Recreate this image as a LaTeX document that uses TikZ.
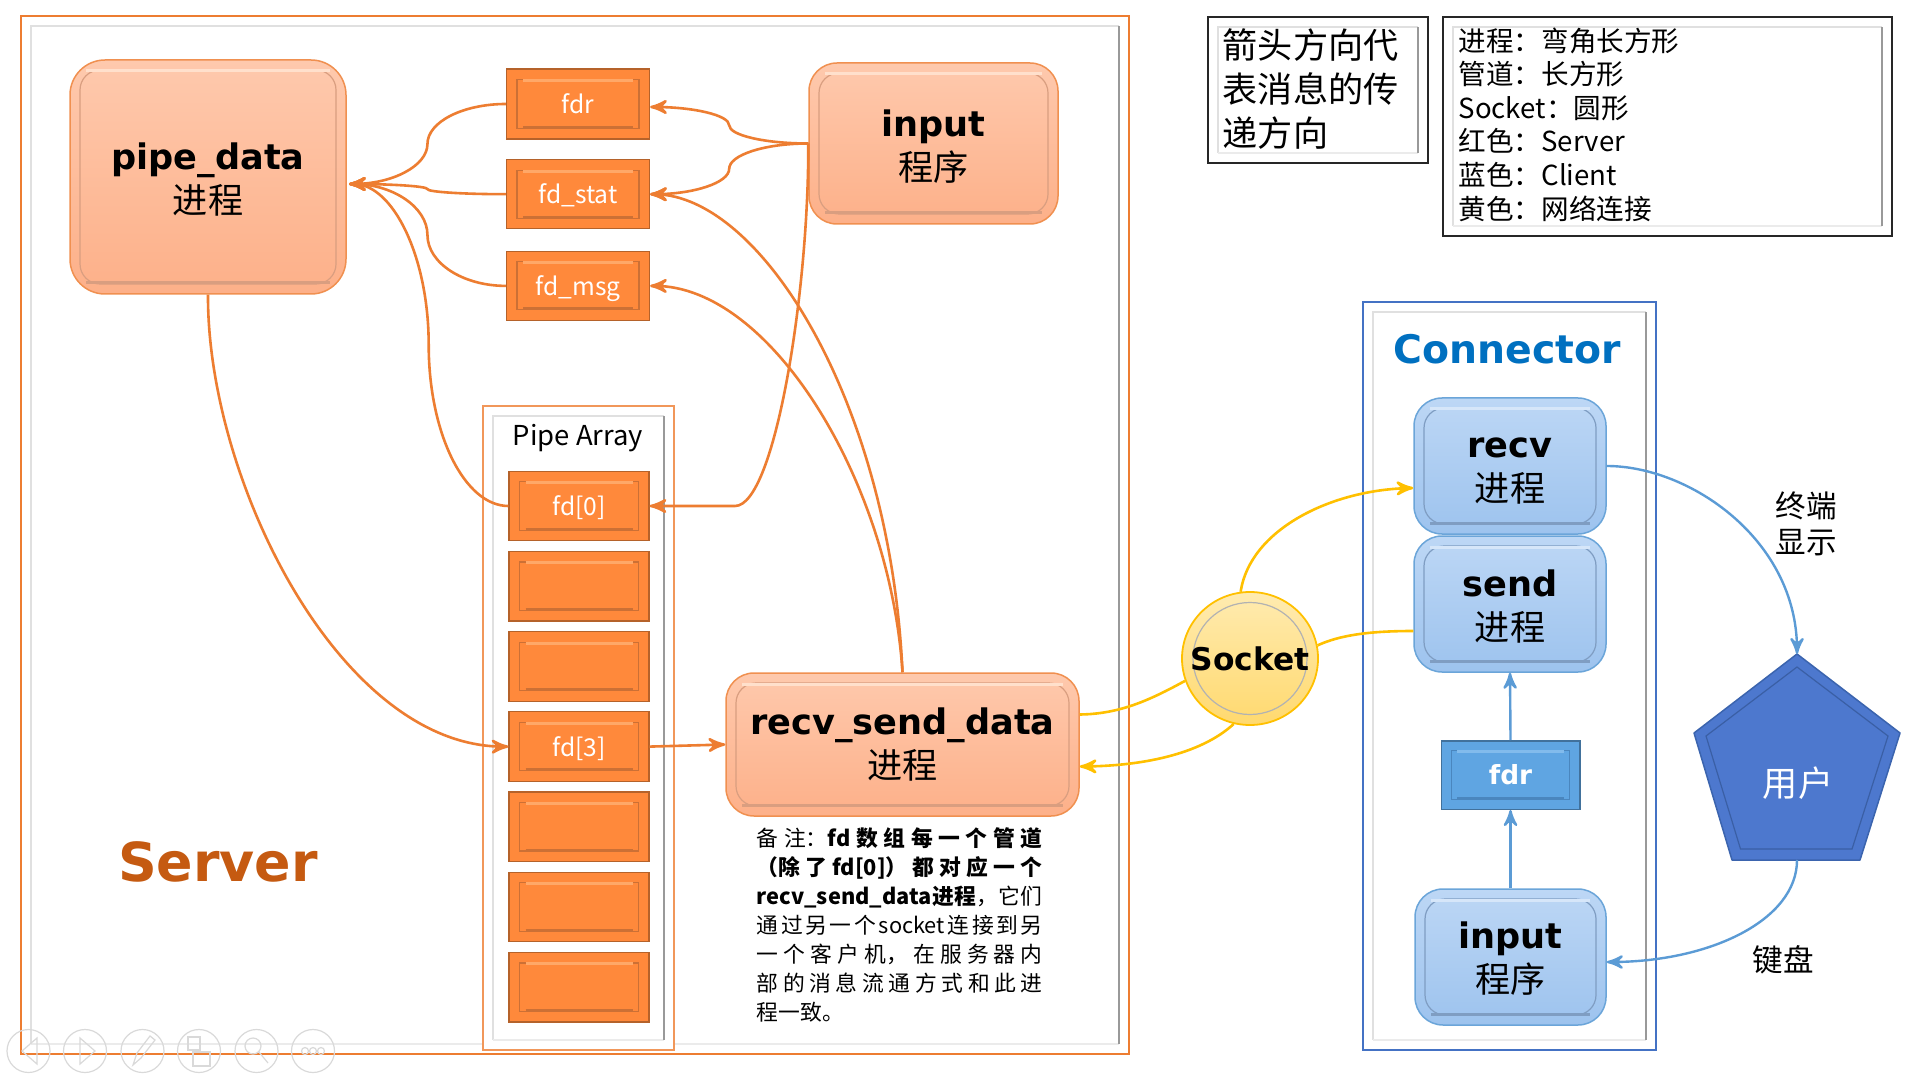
\documentclass[tikz,border=0pt]{standalone}
\usepackage{fontspec}
\setmainfont{Noto Sans CJK SC}
\newfontfamily\titlefamily{DejaVu Sans}
\usetikzlibrary{calc,arrows,positioning,shapes.geometric}

\XeTeXlinebreaklocale "zh"
\XeTeXlinebreakskip=0pt plus 3pt

\newcommand{\bodyfont}{\fontsize{10}{12.6}\selectfont}
\newcommand{\titlefont}{\titlefamily\bfseries\fontsize{10}{12.6}\selectfont}

% S shaped connector with a vertical tangent half way
\newcommand{\bendline}[2]{
  \coordinate (bendmid) at ($(#1)!.5!(#2)$);
  \draw[arrow] (#1) .. controls ($(#1)!.275!(#1 -| #2)$) and ($(bendmid)!.55!(bendmid |- #1)$) .. (bendmid)
    .. controls ($(bendmid)!.55!(bendmid |- #2)$) and ($(#2)!.275!(#2 -| #1)$) .. (#2);
}

\definecolor{orangeline}{HTML}{ED7D31}
\definecolor{orangedark}{HTML}{B5622A}
\definecolor{orangecell}{HTML}{FF893B}
\definecolor{orangeshade}{HTML}{CC7035}
\definecolor{orangelight}{HTML}{FFA868}
\definecolor{redtop}{HTML}{FEC9AD}
\definecolor{redbottom}{HTML}{FDB089}
\definecolor{redinner}{HTML}{D99E80}
\definecolor{redglow}{HTML}{FFE0CC}
\definecolor{servertext}{HTML}{C55A11}
\definecolor{bluecurve}{HTML}{5B9BD5}
\definecolor{blueline}{HTML}{4472C4}
\definecolor{bluetop}{HTML}{BDD7F5}
\definecolor{bluebottom}{HTML}{9DC3EE}
\definecolor{blueinner}{HTML}{7F9DC2}
\definecolor{blueglow}{HTML}{D6E6F9}
\definecolor{conntext}{HTML}{0070C0}
\definecolor{fdrline}{HTML}{41719C}
\definecolor{fdrfill}{HTML}{5FA5E2}
\definecolor{fdrshade}{HTML}{4A86BE}
\definecolor{fdrlight}{HTML}{82BBEC}
\definecolor{userline}{HTML}{3B64AE}
\definecolor{userfill}{HTML}{4D78CE}
\definecolor{userinner}{HTML}{3A5FA5}
\definecolor{yellowline}{HTML}{FFC000}
\definecolor{yellowtop}{HTML}{FFEBB0}
\definecolor{yellowbottom}{HTML}{FFD96F}

\tikzset{
  bevel/.style n args={4}{path picture={
      \draw[#3,line width=.012cm,rounded corners=#2]
        ([shift={(#1,-#1)}]path picture bounding box.north west) rectangle
        ([shift={(-#1,#1)}]path picture bounding box.south east);
      \draw[#3,line width=.03cm]
        ([shift={(#1+.06,#1+.01)}]path picture bounding box.south west) --
        ([shift={(-#1-.06,#1+.01)}]path picture bounding box.south east);
      \draw[#4,line width=.03cm]
        ([shift={(#1+.06,-#1-.01)}]path picture bounding box.north west) --
        ([shift={(-#1-.06,-#1-.01)}]path picture bounding box.north east);
    }},
  framebox/.style={draw=#1,fill=white,line width=.018cm,inner sep=0pt,anchor=north west,
    path picture={
      \draw[black!12,line width=.022cm]
        ([shift={(.1,.1)}]path picture bounding box.south west) --
        ([shift={(.1,-.1)}]path picture bounding box.north west) --
        ([shift={(-.1,-.1)}]path picture bounding box.north east);
      \draw[black!8,line width=.022cm]
        ([shift={(.1,.1)}]path picture bounding box.south west) --
        ([shift={(-.1,.1)}]path picture bounding box.south east);
      \draw[black!40,line width=.018cm]
        ([shift={(-.1,.1)}]path picture bounding box.south east) --
        ([shift={(-.1,-.1)}]path picture bounding box.north east);
    }},
  procbox/.style={line width=.015cm,rounded corners=.28cm,align=center,inner sep=0pt,
    font=\bodyfont},
  redbox/.style={procbox,draw=orangeline!85!white,top color=redtop,bottom color=redbottom,
    bevel={.1}{.2cm}{redinner}{redglow}},
  bluebox/.style={procbox,draw=bluecurve!90!white,top color=bluetop,bottom color=bluebottom,
    bevel={.1}{.2cm}{blueinner}{blueglow}},
  cellbox/.style={draw=orangedark,fill=orangecell,line width=.012cm,inner sep=0pt,
    minimum width=1.4cm,minimum height=.695cm,text=white,font=\fontsize{7}{8}\selectfont,
    text height=6.5pt,text depth=1.1pt,
    bevel={.105}{0pt}{orangeshade}{orangelight}},
  arrow/.style={->,>=stealth',line width=.026cm,orangeline},
  netline/.style={>=stealth',line width=.026cm,yellowline},
  bluearrow/.style={->,>=stealth',line width=.024cm,bluecurve},
  toolicon/.style={black!15,line width=.012cm},
}

\begin{document}
\begin{tikzpicture}
  \useasboundingbox (0,0) rectangle (19.2,-10.8);

  % frames
  \node[framebox=orangeline,minimum width=11.08cm,minimum height=10.38cm] (server) at (.2,-.15) {};
  \node[framebox=orangeline!80!white,minimum width=1.91cm,minimum height=6.44cm] (pipearray) at (4.82,-4.05) {};
  \node[framebox=blueline,minimum width=2.93cm,minimum height=7.48cm] (connector) at (13.62,-3.01) {};
  \node[framebox=black!85,minimum width=2.2cm,minimum height=1.46cm] (arrowinfo) at (12.07,-.16) {};
  \node[framebox=black!85,minimum width=4.49cm,minimum height=2.19cm] (legend) at (14.42,-.16) {};

  % server side
  \node[redbox,rounded corners=.35cm,minimum width=2.76cm,minimum height=2.34cm] (pipedata) at (2.08,-1.77)
    {\rule{0pt}{9pt}{\titlefont pipe\_data}\\进程};
  \node[redbox,minimum width=2.49cm,minimum height=1.61cm] (input) at (9.335,-1.435)
    {\rule{0pt}{9.3pt}{\titlefont input}\\程序};
  \node[redbox,minimum width=3.53cm,minimum height=1.43cm] (rsdata) at (9.025,-7.445)
    {{\titlefont recv\_send\_data}\\进程};

  \node[cellbox,minimum width=1.43cm,minimum height=.7cm] (fdr) at (5.78,-1.04) {fdr};
  \node[cellbox,minimum width=1.43cm,minimum height=.69cm] (fdstat) [below=.195cm of fdr] {fd\_stat};
  \node[cellbox,minimum width=1.43cm,minimum height=.69cm] (fdmsg) [below=.215cm of fdstat] {fd\_msg};

  \node[inner sep=0pt,font=\fontsize{7.8}{9}\selectfont] (pipetitle) at (5.78,-4.38) {Pipe Array};
  \node[cellbox] (fd0) at (5.79,-5.06) {fd[0]};
  \node[cellbox] (fd1) [below=.095cm of fd0] {};
  \node[cellbox] (fd2) [below=.095cm of fd1] {};
  \node[cellbox] (fd3) [below=.095cm of fd2] {fd[3]};
  \node[cellbox] (fd4) [below=.095cm of fd3] {};
  \node[cellbox] (fd5) [below=.095cm of fd4] {};
  \node[cellbox] (fd6) [below=.095cm of fd5] {};

  \node[inner sep=0pt,font=\titlefamily\bfseries\fontsize{15.3}{18}\selectfont,text=servertext] (servertitle) at (2.18,-8.62) {Server};

  \node[inner sep=0pt,anchor=north west,text width=2.86cm,align=justify,
    font=\fontsize{6.2}{8.25}\selectfont] (note) at (7.56,-8.27)
    {备注：\textbf{fd数组每一个管道}\linebreak
     \textbf{（除了fd[0]）都对应一个}\linebreak
     \textbf{recv\_send\_data进程}，它们\linebreak
     通过另一个socket连接到另\linebreak
     一个客户机，在服务器内\linebreak
     部的消息流通方式和此进\linebreak
     程一致。};

  % legends
  \node[inner sep=0pt,anchor=west,align=left,font=\fontsize{10}{12.5}\selectfont] (arrowtext) at (12.22,-.89)
    {箭头方向代\\表消息的传\\递方向};
  \node[inner sep=0pt,anchor=north west,align=left,font=\fontsize{7.85}{9.55}\selectfont] (legendtext) at (14.58,-.27)
    {进程：弯角长方形\\管道：长方形\\Socket：圆形\\红色：Server\\蓝色：Client\\黄色：网络连接};

  % client side
  \node[inner sep=0pt,font=\titlefamily\bfseries\fontsize{11.2}{13}\selectfont,text=conntext] (conntitle) at (15.07,-3.49) {Connector};
  \node[bluebox,minimum width=1.92cm,minimum height=1.36cm] (recv) at (15.1,-4.66)
    {\rule{0pt}{8.5pt}{\titlefont recv}\\进程};
  \node[bluebox,minimum width=1.92cm,minimum height=1.36cm] (send) at (15.1,-6.04)
    {\rule{0pt}{9pt}{\titlefont send}\\进程};
  \node[draw=fdrline,fill=fdrfill,line width=.015cm,inner sep=0pt,minimum width=1.385cm,minimum height=.685cm,
    text=white,font=\titlefamily\bfseries\fontsize{7.5}{9}\selectfont,
    bevel={.1}{0pt}{fdrshade}{fdrlight}] (cfdr) at (15.105,-7.75) {fdr};
  \node[bluebox,minimum width=1.91cm,minimum height=1.36cm] (cinput) at (15.105,-9.57)
    {\rule{0pt}{8.7pt}{\titlefont input}\\程序};

  % user
  \coordinate (userN) at (17.97,-6.54);
  \coordinate (userS) at (17.97,-8.6);
  \draw[draw=userline,fill=userfill,line width=.015cm,line join=round] (userN) -- (19,-7.33) -- (18.6,-8.6) -- (17.32,-8.6) -- (16.94,-7.33) -- cycle;
  \draw[draw=userinner,line width=.012cm] (17.97,-6.67) -- (18.88,-7.36) -- (18.52,-8.49) -- (17.405,-8.49) -- (17.06,-7.36) -- cycle;
  \node[inner sep=0pt,text=white,font=\bodyfont] (user) at (17.98,-7.83) {用户};
  \node[inner sep=0pt,align=center,font=\fontsize{8.7}{10.2}\selectfont] (showlabel) at (18.06,-5.24) {终端\\显示};
  \node[inner sep=0pt,font=\fontsize{8.7}{11}\selectfont] (keylabel) at (17.83,-9.6) {键盘};

  % server arrows
  \coordinate (pipein) at (3.49,-1.84);
  \coordinate (fdrin) at ([yshift=-.03cm]fdr.east);
  \bendline{fdr.west}{pipein}
  \bendline{fdstat.west}{pipein}
  \bendline{fdmsg.west}{pipein}
  \bendline{fd0.west}{pipein}
  \bendline{input.west}{fdrin}
  \bendline{input.west}{fdstat.east}
  \draw[arrow] (input.west) .. controls (8.09,-2.9) and (7.75,-5.06) .. (7.35,-5.06) -- (fd0.east);
  \draw[arrow] (rsdata.north) .. controls (8.9,-4) and (7.6,-1.95) .. (fdstat.east);
  \draw[arrow] (rsdata.north) .. controls (8.9,-4.8) and (7.7,-2.86) .. (fdmsg.east);
  \draw[arrow] (pipedata.south) .. controls (2.07,-4.8) and (3.4,-7.47) .. (fd3.west);
  \draw[arrow] (fd3.east) -- (rsdata.west);

  % network
  \node[ellipse,draw=yellowline,top color=yellowtop,bottom color=yellowbottom,line width=.018cm,inner sep=0pt,
    minimum width=1.36cm,minimum height=1.33cm,font=\titlefamily\bfseries\fontsize{8.9}{10}\selectfont,
    path picture={\draw[black!30,line width=.012cm] (path picture bounding box.center) ellipse (.57cm and .56cm);}]
    (socket) at (12.5,-6.585) {\makebox[0pt]{Socket}};
  \draw[netline] ([yshift=.3cm]rsdata.east) .. controls (11.2,-7.14) and (11.5,-7) .. (socket.199);
  \draw[netline,->] (socket.256) .. controls (12,-7.55) and (11.4,-7.66) .. ([yshift=-.22cm]rsdata.east);
  \draw[netline,->] (socket.98) .. controls (12.5,-5.3) and (13.3,-4.9) .. ([yshift=-.22cm]recv.west);
  \draw[netline] ([yshift=-.27cm]send.west) .. controls (13.7,-6.31) and (13.4,-6.35) .. (socket.11);

  % client arrows
  \draw[bluearrow] (cinput.north) -- (cfdr.south);
  \draw[bluearrow] (cfdr.north) -- (send.south);
  \draw[bluearrow] (recv.east) .. controls (16.9,-4.66) and (17.97,-5.4) .. (userN);
  \draw[bluearrow] (userS) .. controls (17.97,-9.2) and (17.1,-9.62) .. ([yshift=-.05cm]cinput.east);

  % slide show toolbar
  \foreach \tx in {.285,.85,1.425,1.99,2.565,3.13}
    \draw[toolicon] (\tx,-10.51) circle (.215cm);
  \draw[toolicon] (.37,-10.38) -- (.22,-10.51) -- (.37,-10.64) -- cycle;
  \draw[toolicon] (.8,-10.38) -- (.95,-10.51) -- (.8,-10.64) -- cycle;
  \draw[toolicon] (1.33,-10.65) -- (1.37,-10.53) -- (1.5,-10.36) -- (1.55,-10.4) -- (1.41,-10.58) -- cycle;
  \draw[toolicon] (1.88,-10.37) rectangle (2.0,-10.5) (1.93,-10.52) rectangle (2.1,-10.66);
  \draw[toolicon] (2.53,-10.46) circle (.08cm) (2.59,-10.52) -- (2.68,-10.63);
  \foreach \tx in {3.05,3.13,3.21}
    \draw[toolicon] (\tx,-10.51) circle (.035cm);
\end{tikzpicture}
\end{document}
